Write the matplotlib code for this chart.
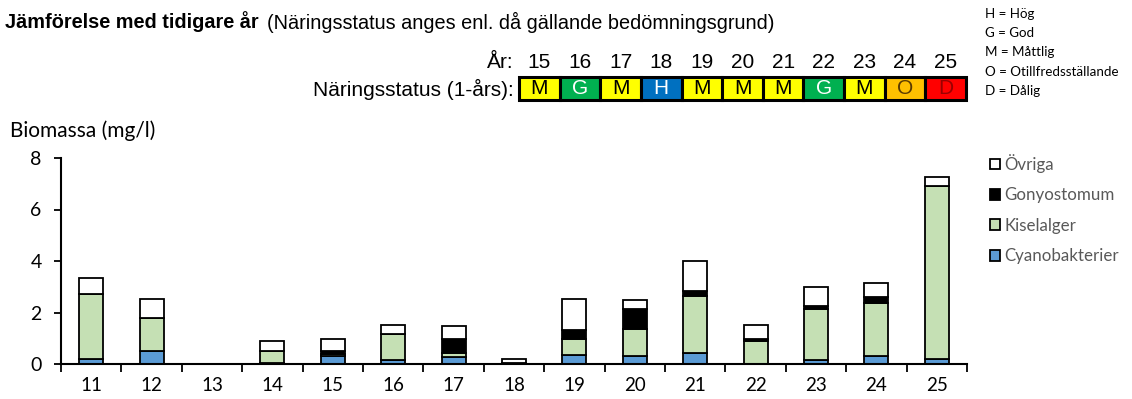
import matplotlib
matplotlib.use("Agg")
import matplotlib.pyplot as plt
from matplotlib.patches import Rectangle
import numpy as np

# Biomassa per grupp och år (mg/l)
years = ["11", "12", "13", "14", "15", "16", "17", "18", "19", "20", "21", "22", "23", "24", "25"]
cyano = [0.20, 0.52, 0, 0.02, 0.32, 0.15, 0.26, 0.02, 0.36, 0.31, 0.44, 0.01, 0.15, 0.30, 0.19]
kisel = [2.53, 1.25, 0, 0.48, 0.08, 1.00, 0.18, 0.03, 0.62, 1.05, 2.19, 0.90, 1.97, 2.08, 6.71]
gonyo = [0.00, 0.02, 0, 0.00, 0.12, 0.02, 0.54, 0.00, 0.33, 0.78, 0.20, 0.06, 0.12, 0.22, 0.02]
ovriga = [0.62, 0.73, 0, 0.38, 0.45, 0.33, 0.50, 0.14, 1.20, 0.35, 1.18, 0.56, 0.74, 0.53, 0.33]

groups = ["Cyanobakterier", "Kiselalger", "Gonyostomum", "Övriga"]
group_colors = ["#5B9BD5", "#C5E0B4", "black", "white"]

# Näringsstatus (1-års) för senaste åren
status_years = ["15", "16", "17", "18", "19", "20", "21", "22", "23", "24", "25"]
status = ["M", "G", "M", "H", "M", "M", "M", "G", "M", "O", "D"]

status_colors = {
    "H": ("#0070C0", "white"),
    "G": ("#00B050", "white"),
    "M": ("#FFFF00", "black"),
    "O": ("#FFC000", "#5a3a00"),
    "D": ("#FF0000", "#9a0000"),
}
status_names = ["H = Hög", "G = God", "M = Måttlig", "O = Otillfredsställande", "D = Dålig"]

W, H = 1132, 399
fig = plt.figure(figsize=(W / 100, H / 100), dpi=100)


def fx(px):
    return px / W


def fy(py):
    return 1 - py / H


ax = fig.add_axes([fx(61), fy(364), fx(967) - fx(61), fy(158) - fy(364)])

x = np.arange(len(years))
bottom = np.zeros(len(years))
for vals, color in zip([cyano, kisel, gonyo, ovriga], group_colors):
    vals = np.array(vals)
    bars = ax.bar(x, vals, bottom=bottom, width=0.4, color=color,
                  edgecolor="black", linewidth=1.3)
    # year 13 has no data, skip empty segments
    for rect, v in zip(bars, vals):
        if v == 0:
            rect.set_visible(False)
    bottom = bottom + vals

ax.set_xlim(-0.5, len(years) - 0.5)
ax.set_ylim(0, 8)
ax.set_yticks([0, 2, 4, 6, 8])
ax.set_xticks(x)
ax.set_xticklabels(years)
ax.set_xticks(np.arange(-0.5, len(years), 1.0), minor=True)
ax.tick_params(axis="x", which="major", length=0, pad=9.5, labelsize=13.5)
ax.tick_params(axis="x", which="minor", length=6, width=1.3, direction="out")
ax.tick_params(axis="y", length=5, width=1.3, direction="out", labelsize=14, pad=9)
for lab in ax.get_xticklabels() + ax.get_yticklabels():
    lab.set_family("Lato")
for side in ("top", "right"):
    ax.spines[side].set_visible(False)
for side in ("left", "bottom"):
    ax.spines[side].set_linewidth(1.5)

fig.text(fx(10), fy(131), "Biomassa (mg/l)", family="Lato", fontsize=15, va="center", ha="left")

handles = [Rectangle((0, 0), 1, 1, facecolor=c, edgecolor="black", linewidth=1.3)
           for c in group_colors]
leg = ax.legend(
    handles=handles[::-1],
    labels=groups[::-1],
    loc="upper left",
    bbox_to_anchor=(fx(990), fy(154)),
    bbox_transform=fig.transFigure,
    frameon=False,
    handlelength=0.6,
    handleheight=0.6,
    handletextpad=0.25,
    labelspacing=0.85,
    borderpad=0,
    borderaxespad=0,
    prop={"family": "Lato", "size": 12.2},
)
for t in leg.get_texts():
    t.set_color("#595959")

# header
fig.text(fx(5), fy(22), "Jämförelse med tidigare år", family="Liberation Sans",
         fontsize=14.3, fontweight="bold", va="center", ha="left")
fig.text(fx(267), fy(22), "(Näringsstatus anges enl. då gällande bedömningsgrund)",
         family="Liberation Sans", fontsize=14.3, va="center", ha="left")

box_left, box_right = 519, 966
box_top, box_bot = 77, 100
bw = (box_right - box_left) / len(status)
fig.text(fx(514), fy(62), "År:", family="Liberation Sans", fontsize=15, va="center", ha="right")
fig.text(fx(514), fy(89), "Näringsstatus (1-års):", family="Liberation Sans", fontsize=15,
         va="center", ha="right")
for i, (yr, s) in enumerate(zip(status_years, status)):
    x0 = box_left + i * bw
    face, txt = status_colors[s]
    fig.patches.append(Rectangle((fx(x0), fy(box_bot)), fx(bw), fy(box_top) - fy(box_bot),
                                 transform=fig.transFigure, facecolor=face,
                                 edgecolor="black", linewidth=2.2))
    fig.text(fx(x0 + bw / 2), fy(89), s, family="Liberation Sans", fontsize=15,
             color=txt, va="center", ha="center")
    fig.text(fx(x0 + bw / 2), fy(62), yr, family="Liberation Sans", fontsize=15,
             va="center", ha="center")

for i, name in enumerate(status_names):
    fig.text(fx(985), fy(14 + i * 19.2), name, family="Lato", fontsize=9.6, va="center", ha="left")

fig.savefig("out.png", dpi=100)
